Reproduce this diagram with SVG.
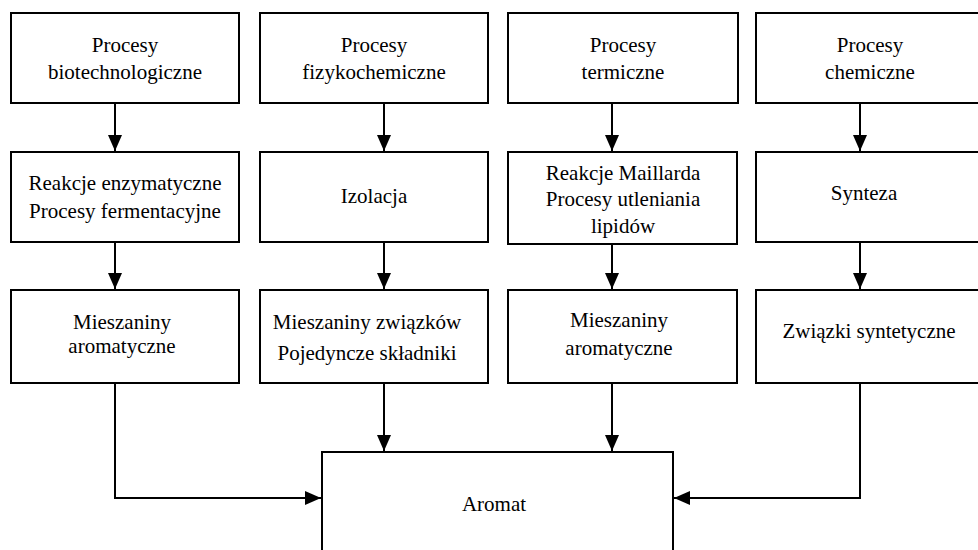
<svg xmlns="http://www.w3.org/2000/svg" width="978" height="550" viewBox="0 0 978 550" font-family="Liberation Serif, Times New Roman, serif" font-size="21">
<style>
.box{fill:#fff;stroke:#000;stroke-width:2}
.t{fill:#000;text-anchor:middle}
.c{fill:none;stroke:#000;stroke-width:2}
</style>
<defs>
<marker id="ah" viewBox="0 0 16 14" refX="16" refY="7" markerWidth="16" markerHeight="14" markerUnits="userSpaceOnUse" orient="auto">
<path d="M0,0 L16,7 L0,14 Z" fill="#000"/>
</marker>
</defs>
<rect width="978" height="550" fill="#fff"/>
<g id="connectors">
<path class="c" d="M115,103 V151" marker-end="url(#ah)"/>
<path class="c" d="M384,103 V151" marker-end="url(#ah)"/>
<path class="c" d="M612,103 V151" marker-end="url(#ah)"/>
<path class="c" d="M860,103 V151" marker-end="url(#ah)"/>
<path class="c" d="M115,242 V289" marker-end="url(#ah)"/>
<path class="c" d="M384,242 V289" marker-end="url(#ah)"/>
<path class="c" d="M612,244 V289" marker-end="url(#ah)"/>
<path class="c" d="M860,242 V289" marker-end="url(#ah)"/>
<path class="c" d="M115,383 V498 H321" marker-end="url(#ah)"/>
<path class="c" d="M384,383 V451" marker-end="url(#ah)"/>
<path class="c" d="M612,383 V451" marker-end="url(#ah)"/>
<path class="c" d="M860,383 V498 H674" marker-end="url(#ah)"/>
</g>
<g id="n1"><rect class="box" x="11" y="13" width="228" height="90"/><text class="t" x="125" y="52">Procesy</text><text class="t" x="125" y="79">biotechnologiczne</text></g>
<g id="n2"><rect class="box" x="260" y="13" width="228" height="90"/><text class="t" x="374" y="52">Procesy</text><text class="t" x="374" y="79">fizykochemiczne</text></g>
<g id="n3"><rect class="box" x="508" y="13" width="230" height="90"/><text class="t" x="623" y="52">Procesy</text><text class="t" x="623" y="79">termiczne</text></g>
<g id="n4"><rect class="box" x="756" y="13" width="230" height="90"/><text class="t" x="870" y="52">Procesy</text><text class="t" x="870" y="79">chemiczne</text></g>
<g id="n5"><rect class="box" x="11" y="152" width="228" height="90"/><text class="t" x="125" y="190">Reakcje enzymatyczne</text><text class="t" x="125" y="218">Procesy fermentacyjne</text></g>
<g id="n6"><rect class="box" x="260" y="152" width="228" height="90"/><text class="t" x="374" y="203">Izolacja</text></g>
<g id="n7"><rect class="box" x="508" y="152" width="229" height="92"/><text class="t" x="623" y="180">Reakcje Maillarda</text><text class="t" x="623" y="206">Procesy utleniania</text><text class="t" x="623" y="233">lipidów</text></g>
<g id="n8"><rect class="box" x="756" y="152" width="230" height="90"/><text class="t" x="864" y="200">Synteza</text></g>
<g id="n9"><rect class="box" x="11" y="290" width="228" height="93"/><text class="t" x="122" y="329">Mieszaniny</text><text class="t" x="122" y="353">aromatyczne</text></g>
<g id="n10"><rect class="box" x="260" y="290" width="228" height="93"/><text class="t" x="367" y="329">Mieszaniny związków</text><text class="t" x="367" y="360">Pojedyncze składniki</text></g>
<g id="n11"><rect class="box" x="508" y="290" width="229" height="93"/><text class="t" x="619" y="327">Mieszaniny</text><text class="t" x="619" y="355">aromatyczne</text></g>
<g id="n12"><rect class="box" x="756" y="290" width="230" height="93"/><text class="t" x="869" y="338">Związki syntetyczne</text></g>
<g id="n13"><rect class="box" x="322" y="452" width="351" height="110"/><text class="t" x="494" y="511">Aromat</text></g>
</svg>
